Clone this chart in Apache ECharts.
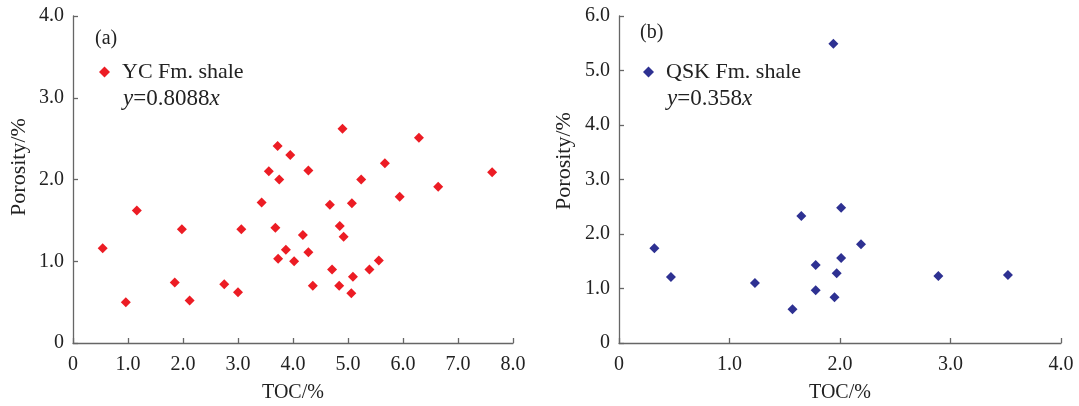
<!DOCTYPE html>
<html>
<head>
<meta charset="utf-8">
<script src="https://cdn.jsdelivr.net/npm/echarts@6/dist/echarts.min.js"></script>
<style>
  html, body { margin: 0; padding: 0; background: #fff; }
  #chart { width: 1079px; height: 406px; }
</style>
</head>
<body>
<div id="chart"></div>
<script>
// (a) YC Fm. shale: [TOC, porosity]
var ycPoints = [
  [4.90, 2.62], [3.72, 2.41], [3.95, 2.30], [3.56, 2.10], [3.75, 2.00],
  [4.28, 2.11], [6.29, 2.51], [5.67, 2.20], [5.24, 2.00], [7.62, 2.09],
  [6.64, 1.91], [5.94, 1.79], [3.43, 1.72], [4.67, 1.69], [5.07, 1.71],
  [1.16, 1.62], [1.98, 1.39], [3.06, 1.39], [3.68, 1.41], [4.85, 1.43],
  [4.18, 1.32], [4.92, 1.30], [0.54, 1.16], [3.87, 1.14], [4.28, 1.11],
  [3.73, 1.03], [4.02, 1.00], [5.56, 1.01], [4.71, 0.90], [5.39, 0.90],
  [5.09, 0.81], [1.85, 0.74], [2.75, 0.72], [4.36, 0.70], [4.84, 0.70],
  [3.00, 0.62], [5.06, 0.61], [0.96, 0.50], [2.12, 0.52]
];
// (b) QSK Fm. shale: [TOC, porosity]
var qskPoints = [
  [1.94, 5.49], [2.01, 2.48], [1.65, 2.33], [2.19, 1.81], [0.32, 1.74],
  [2.01, 1.56], [1.78, 1.43], [1.97, 1.28], [0.47, 1.21], [2.89, 1.23],
  [3.52, 1.25], [1.23, 1.10], [1.78, 0.97], [1.95, 0.84], [1.57, 0.62]
];
var seriesNames = ['YC Fm. shale', 'QSK Fm. shale'];
var slopes = ['0.8088', '0.358'];
var panelTags = ['(a)', '(b)'];
var xMax = [8, 4];
var yMax = [4, 6];

var font = 'Liberation Serif';
var axisColor = '#666';
var textColor = '#222';

function fmt(v) { return v === 0 ? '0' : v.toFixed(1); }

function makeX(i) {
  return {
    type: 'value', gridIndex: i, min: 0, max: xMax[i], interval: 1,
    name: 'TOC/%', nameLocation: 'middle', nameGap: 40,
    nameTextStyle: { fontFamily: font, fontSize: 20, color: textColor },
    axisLine: { lineStyle: { color: axisColor, width: 1.3 } },
    axisTick: { inside: true, length: 5, lineStyle: { color: axisColor, width: 1.3 } },
    axisLabel: { formatter: fmt, fontFamily: font, fontSize: 20, color: textColor, margin: 12 },
    splitLine: { show: false }
  };
}
function makeY(i) {
  return {
    type: 'value', gridIndex: i, min: 0, max: yMax[i], interval: 1,
    name: 'Porosity/%', nameLocation: 'middle', nameGap: i === 0 ? 43 : 44,
    // the name sits a little above the axis middle in the original
    nameTextStyle: { fontFamily: font, fontSize: 22, color: textColor,
      padding: [0, 0, 0, i === 0 ? 25 : 37] },
    axisLine: { show: true, lineStyle: { color: axisColor, width: 1.3 } },
    axisTick: { show: true, inside: true, length: 5, lineStyle: { color: axisColor, width: 1.3 } },
    axisLabel: { formatter: fmt, fontFamily: font, fontSize: 20, color: textColor, margin: 9 },
    splitLine: { show: false }
  };
}

function equation(i, left) {
  return {
    type: 'text', left: left, top: 87,
    style: {
      text: '{i|y}{n|=' + slopes[i] + '}{i|x}',
      rich: {
        i: { fontFamily: font, fontSize: 23, fontStyle: 'italic', fill: textColor },
        n: { fontFamily: font, fontSize: 23, fill: textColor }
      }
    }
  };
}

function legendAt(i, left) {
  return {
    data: [seriesNames[i]], left: left, top: 56, itemWidth: 11, itemHeight: 11,
    textStyle: { fontFamily: font, fontSize: 22, color: textColor, padding: [0, 0, 0, 7] }
  };
}

var chart = echarts.init(document.getElementById('chart'));
var option = {
  animation: false,
  grid: [
    { left: 73, top: 16, width: 440, height: 327, outerBoundsMode: 'none' },
    { left: 619, top: 16, width: 442, height: 327, outerBoundsMode: 'none' }
  ],
  xAxis: [makeX(0), makeX(1)],
  yAxis: [makeY(0), makeY(1)],
  legend: [legendAt(0, 94), legendAt(1, 638)],
  graphic: [
    { type: 'text', left: 95, top: 29, style: { text: panelTags[0], font: '20px ' + font, fill: textColor } },
    { type: 'text', left: 640, top: 23, style: { text: panelTags[1], font: '20px ' + font, fill: textColor } },
    equation(0, 123),
    equation(1, 667)
  ],
  series: [
    { name: seriesNames[0], type: 'scatter', xAxisIndex: 0, yAxisIndex: 0, symbol: 'diamond',
      symbolSize: 10, itemStyle: { color: '#ec1c24', opacity: 1 }, data: ycPoints },
    { name: seriesNames[1], type: 'scatter', xAxisIndex: 1, yAxisIndex: 1, symbol: 'diamond',
      symbolSize: 10, itemStyle: { color: '#2e3192', opacity: 1 }, data: qskPoints }
  ]
};
option && chart.setOption(option);
</script>
</body>
</html>
